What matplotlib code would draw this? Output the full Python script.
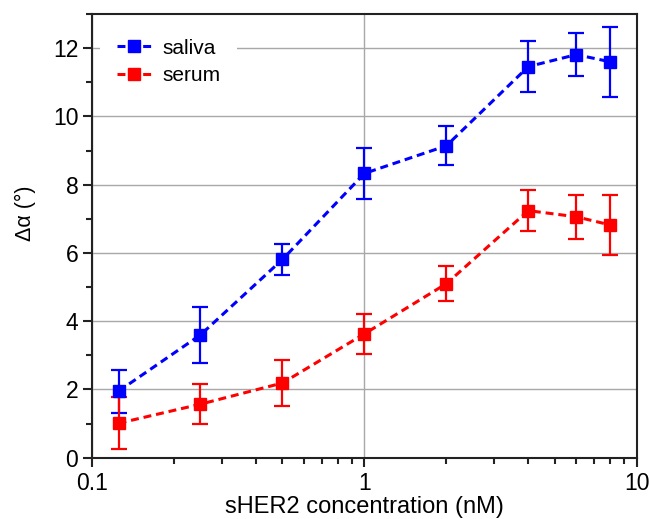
import numpy as np
import matplotlib
matplotlib.use('Agg')
import matplotlib.pyplot as plt
from matplotlib.lines import Line2D
from matplotlib.ticker import MultipleLocator, LogLocator, NullFormatter

plt.rcParams['font.family'] = ['Liberation Sans', 'DejaVu Sans']

conc = [0.125, 0.25, 0.5, 1, 2, 4, 6, 8]
saliva = [1.95, 3.6, 5.81, 8.33, 9.14, 11.46, 11.81, 11.6]
saliva_err = [0.63, 0.83, 0.45, 0.75, 0.57, 0.75, 0.64, 1.03]
serum = [1.01, 1.57, 2.19, 3.63, 5.1, 7.24, 7.06, 6.82]
serum_err = [0.76, 0.58, 0.67, 0.58, 0.51, 0.6, 0.65, 0.88]

fig = plt.figure(figsize=(6.49, 5.19), dpi=100)
ax = fig.add_axes([0.142, 0.118, 0.839, 0.855])

dash = (0, (2.6, 1.6))
handles = []
for y, err, col, lab in [(saliva, saliva_err, '#0000ff', 'saliva'),
                         (serum, serum_err, '#ff0000', 'serum')]:
    ax.errorbar(conc, y, yerr=err, color=col, ecolor=col, elinewidth=1.6,
                capsize=5.5, capthick=1.6, linestyle=dash, linewidth=2.2,
                marker='s', markersize=8.8, zorder=3)
    handles.append(Line2D([], [], color=col, linestyle=dash, linewidth=2.2,
                          marker='s', markersize=8.8, label=lab))

ax.set_xscale('log')
ax.set_xlim(0.1, 10)
ax.set_ylim(0, 13)
ax.set_xticks([0.1, 1, 10])
ax.set_xticklabels(['0.1', '1', '10'])
ax.xaxis.set_minor_locator(LogLocator(base=10, subs=np.arange(2, 10)))
ax.xaxis.set_minor_formatter(NullFormatter())
ax.yaxis.set_major_locator(MultipleLocator(2))
ax.yaxis.set_minor_locator(MultipleLocator(1))

ax.grid(True, which='major', color='#a8a8a8', linewidth=1.0)
ax.set_axisbelow(True)
ax.tick_params(which='both', direction='out', top=False, right=False,
               labelsize=16.5, width=1.5, color='#222222')
ax.tick_params(which='major', length=6.5)
ax.tick_params(which='minor', length=4)
for s in ax.spines.values():
    s.set_linewidth(1.5)
    s.set_color('#222222')

ax.set_xlabel('sHER2 concentration (nM)', fontsize=17)
ax.xaxis.set_label_coords(0.5, -0.086)
ax.set_ylabel('Δα (°)', fontsize=15.5)
ax.yaxis.set_label_coords(-0.104, 0.55)

leg = ax.legend(handles=handles, loc='upper left', fontsize=15, frameon=True,
                fancybox=False, handlelength=1.7, handletextpad=0.5,
                borderaxespad=0.38, borderpad=0.8, labelspacing=0.4)
leg.get_frame().set_facecolor('white')
leg.get_frame().set_edgecolor('none')
leg.get_frame().set_alpha(1)

fig.savefig('out.png', dpi=100)
